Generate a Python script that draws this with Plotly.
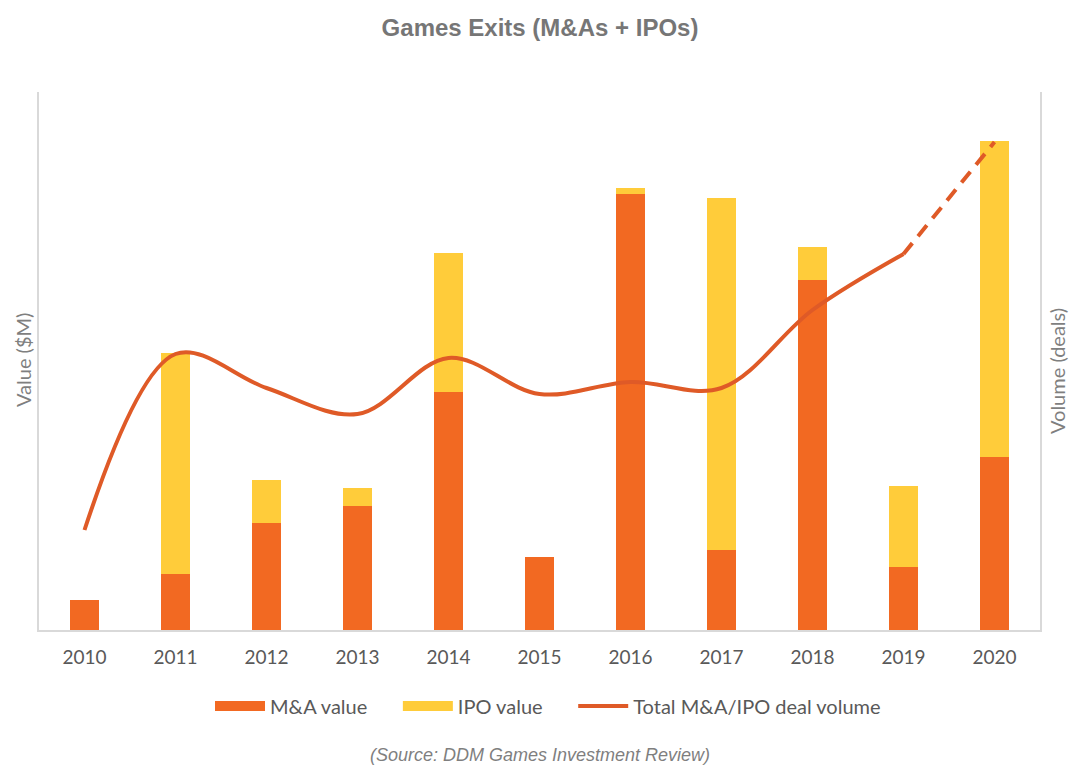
import plotly.graph_objects as go

years = ["2010", "2011", "2012", "2013", "2014", "2015", "2016", "2017", "2018", "2019", "2020"]
ma_value = [300, 560, 1070, 1240, 2380, 730, 4360, 800, 3500, 630, 1730]
ipo_value = [0, 2210, 430, 180, 1390, 0, 60, 3520, 330, 810, 3160]
deal_volume = [50, 138, 121, 108, 136, 118, 124, 121, 160, 188, 244]

C_MA = "#F26922"
C_IPO = "#FFCC3A"
C_LINE = "#DF5A27"
GRAY_TXT = "#595959"
AXIS = "#D9D9D9"
FONT = "Lato"
PAD = "\u00a0" * 5  # extra spacing between legend entries

# page has an 8px body margin: figure occupies page x 8..1080, y 8..776
W, H = 1072, 768
PL, PT, PR, PB = 39 - 8, 92 - 8, 1040 - 8, 630 - 8   # plot area in figure px

fig = go.Figure()
fig.add_trace(go.Bar(x=years, y=ma_value, name="M&A value", marker_color=C_MA,
                     width=0.32, marker_line_width=0, showlegend=False, legendgroup="ma"))
fig.add_trace(go.Bar(x=years, y=ipo_value, name="IPO value", marker_color=C_IPO,
                     width=0.32, marker_line_width=0, showlegend=False, legendgroup="ipo"))
# projected part, dashed
fig.add_trace(go.Scatter(x=years[9:], y=deal_volume[9:], yaxis="y2", mode="lines",
                         line=dict(color=C_LINE, width=4, dash="14px,9px"),
                         showlegend=False, hoverinfo="skip", legendgroup="vol"))
fig.add_trace(go.Scatter(x=years[:10], y=deal_volume[:10], yaxis="y2", mode="lines",
                         name="Total M&A/IPO deal volume", showlegend=False, legendgroup="vol",
                         line=dict(color=C_LINE, width=4, shape="spline", smoothing=1.0)))

# legend entries (wide swatches like the original)
fig.add_trace(go.Scatter(x=[None], y=[None], mode="lines", name="M&A value" + PAD, legendgroup="ma",
                         line=dict(color=C_MA, width=12)))
fig.add_trace(go.Scatter(x=[None], y=[None], mode="lines", name="IPO value" + PAD, legendgroup="ipo",
                         line=dict(color=C_IPO, width=12)))
fig.add_trace(go.Scatter(x=[None], y=[None], mode="lines", name="Total M&A/IPO deal volume",
                         legendgroup="vol", line=dict(color=C_LINE, width=4)))

pw = PR - PL
ph = PB - PT

fig.update_layout(
    width=W, height=H,
    margin=dict(l=PL, r=W - PR, t=PT, b=H - PB),
    paper_bgcolor="white", plot_bgcolor="white",
    barmode="stack",
    title=dict(text="<b>Games Exits (M&As + IPOs)</b>", x=(540 - 8) / W, xanchor="center",
               y=1 - (28 - 8) / H, yanchor="middle", yref="container",
               font=dict(family="Liberation Sans, Arial", size=24, color="#767676")),
    xaxis=dict(type="category", range=[-0.5, 10.5], showline=True, linecolor=AXIS, linewidth=2,
               ticks="", showgrid=False, tickfont=dict(family=FONT, size=19, color=GRAY_TXT),
               ticklabelstandoff=9, zeroline=False),
    yaxis=dict(range=[0, 5380], showline=True, linecolor=AXIS, linewidth=2, showgrid=False,
               showticklabels=False, ticks="", zeroline=False),
    yaxis2=dict(range=[0, 269], overlaying="y", side="right", showline=True, linecolor=AXIS,
                linewidth=2, showgrid=False, showticklabels=False, ticks="", zeroline=False),
    legend=dict(orientation="h", x=(548 - 39) / pw, xanchor="center", y=(630 - 706) / ph,
                yanchor="middle", font=dict(family=FONT, size=20, color=GRAY_TXT),
                traceorder="normal", itemwidth=50,
                bgcolor="rgba(0,0,0,0)", itemclick=False, itemdoubleclick=False),
    annotations=[
        dict(text="Value ($M)", textangle=-90, xref="paper", yref="paper",
             x=(23 - 39) / pw, y=(630 - 360) / ph, xanchor="center", yanchor="middle",
             showarrow=False, font=dict(family=FONT, size=20, color="#7F7F7F")),
        dict(text="Volume (deals)", textangle=-90, xref="paper", yref="paper",
             x=(1057 - 39) / pw, y=(630 - 371) / ph, xanchor="center", yanchor="middle",
             showarrow=False, font=dict(family=FONT, size=20, color="#7F7F7F")),
        dict(text="<i>(Source: DDM Games Investment Review)</i>", xref="paper", yref="paper",
             x=(540 - 39) / pw, y=(630 - 755) / ph, xanchor="center", yanchor="middle",
             showarrow=False, font=dict(family="Liberation Sans, Arial", size=18, color="#7F7F7F")),
    ],
)

fig.write_html("out.html")
